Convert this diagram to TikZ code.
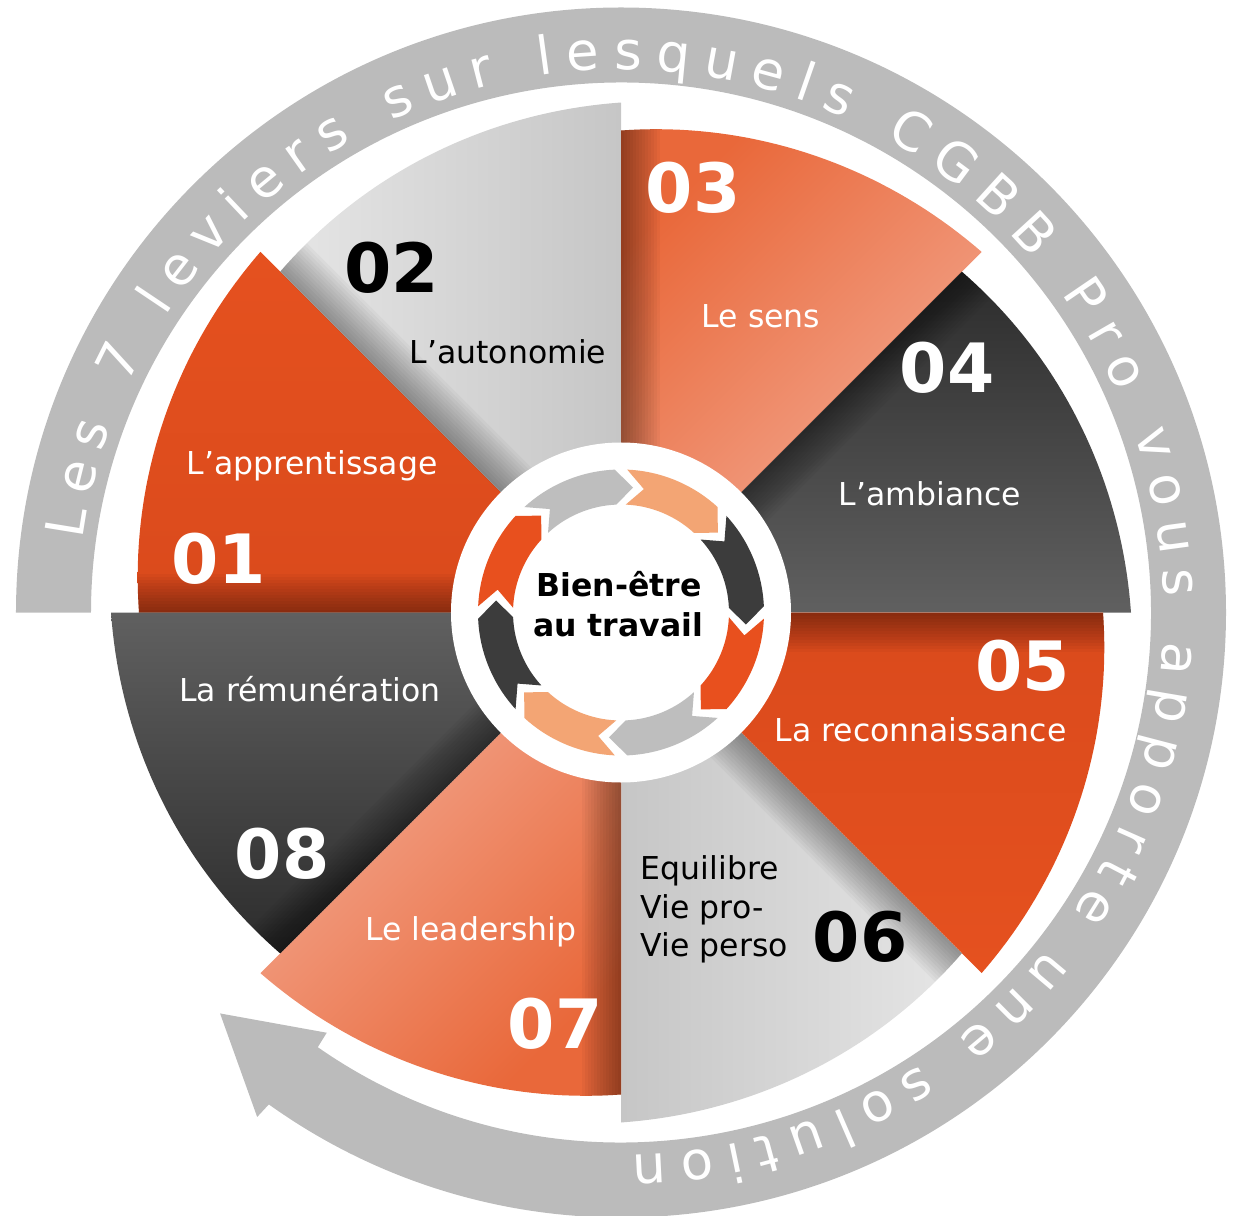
\documentclass[tikz,border=0pt]{standalone}
\usepackage{fontspec}
\setmainfont{DejaVu Sans}
\usetikzlibrary{decorations.text}
\definecolor{bandgray}{HTML}{BBBBBB}
\definecolor{redA}{HTML}{E5511F}
\definecolor{redB}{HTML}{DA4A1C}
\definecolor{lgrayA}{HTML}{E6E6E6}
\definecolor{lgrayB}{HTML}{C6C6C6}
\definecolor{peachA}{HTML}{E9683A}
\definecolor{peachB}{HTML}{F4B09B}
\definecolor{darkA}{HTML}{2C2C2C}
\definecolor{darkB}{HTML}{606060}
\definecolor{arrRed}{HTML}{E8501E}
\definecolor{arrGray}{HTML}{BEBEBE}
\definecolor{arrPeach}{HTML}{F3A574}
\definecolor{arrDark}{HTML}{3C3C3C}
\tikzset{
  wedgeP/.style 2 args={insert path={(0,0) -- (#1:482) -- plot[domain=#1:#2, samples=40, variable=\t] (\t:{482+28*((#1)-(\t))/45}) -- cycle}},
  num/.style={font=\fontsize{68}{68}\selectfont\bfseries, anchor=base, inner sep=0pt},
  lab/.style={font=\fontsize{31.5}{38.5}\selectfont, anchor=base, inner sep=0pt},
  labw/.style={lab, anchor=base west},
  ctr/.style={font=\fontsize{31.5}{40}\selectfont\bfseries, anchor=base, inner sep=0pt}
}
\begin{document}
\begin{tikzpicture}[x=1pt,y=1pt]
\useasboundingbox (-621,-602.5) rectangle (612,612.5);
% outer band with arrow
\fill[bandgray] (180:605) arc[start angle=180, end angle=-125.6, radius=605]
  -- (-125.8:622) -- (-135:567) -- (-125:513) -- (-124.9:530)
  arc[start angle=-124.9, end angle=180, radius=530] -- cycle;
\path[decorate, decoration={text along path, text color=white,
  text={|\fontsize{53}{53}\selectfont|Les 7 leviers sur lesquels CGBB Pro vous apporte une solution},
  text align={fit to path}}]
  (172.3:543) arc[start angle=172.3, end angle=-88.8, radius=543];
% wedges
\shade[top color=redA, bottom color=redB] [wedgeP={180}{135}];
\shade[left color=lgrayA, right color=lgrayB] [wedgeP={135}{90}];
\shade[top color=peachA, bottom color=peachB, shading angle=45] [wedgeP={90}{45}];
\shade[top color=darkA, bottom color=darkB] [wedgeP={45}{0}];
\shade[top color=redB, bottom color=redA] [wedgeP={0}{-45}];
\shade[left color=lgrayB, right color=lgrayA] [wedgeP={-45}{-90}];
\shade[top color=peachB, bottom color=peachA, shading angle=45] [wedgeP={-90}{-135}];
\shade[top color=darkB, bottom color=darkA] [wedgeP={-135}{-180}];
% shadows along start edges
\foreach \a/\b in {180/135,135/90,90/45,45/0,0/-45,-45/-90,-90/-135,-135/-180}{
  \begin{scope}
    \clip[wedgeP={\a}{\b}];
    \foreach \w in {3,6,...,39}
      \fill[black, opacity=0.03, rotate=\a] (0,0) -- (620,0) -- (620,-\w) -- (0,-\w) -- cycle;
  \end{scope}
}
% centre disc and arrows
\fill[white] (0,0) circle[radius=170];
\foreach \t/\c in {180/arrRed,135/arrGray,90/arrPeach,45/arrDark,0/arrRed,-45/arrGray,-90/arrPeach,-135/arrDark}{
  \pgfmathsetmacro{\ta}{\t-2.5}
  \pgfmathsetmacro{\tb}{\t-42.5}
  \pgfmathsetmacro{\tc}{\t-50.5}
  \pgfmathsetmacro{\td}{\t-10.5}
  \fill[\c] (\ta:143) arc[start angle=\ta, end angle=\tb, radius=143] -- (\tc:125.5)
    -- (\tb:108) arc[start angle=\tb, end angle=\ta, radius=108] -- (\td:125.5) -- cycle;
}
\node[ctr] (c1) at (-2,15.8) {Bien-être};
\node[ctr] (c2) at (-3,-24.2) {au travail};
% labels
\node[num, white] (n01) at (-402.5,29.5) {01};
\node[lab, white] (t01) at (-309,137.5) {L’apprentissage};
\node[num, black] (n02) at (-229.5,319.5) {02};
\node[lab, black] (t02) at (-113,248.5) {L’autonomie};
\node[num, white] (n03) at (72,399.5) {03};
\node[lab, white] (t03) at (140,284.5) {Le sens};
\node[num, white] (n04) at (326,219.5) {04};
\node[lab, white] (t04) at (309,106.5) {L’ambiance};
\node[num, white] (n05) at (401.5,-77.5) {05};
\node[lab, white] (t05) at (299.5,-129.2) {La reconnaissance};
\node[labw, black] (t06a) at (19.7,-266.8) {Equilibre};
\node[labw, black] (t06b) at (19.7,-305.8) {Vie pro-};
\node[labw, black] (t06c) at (19.7,-343.5) {Vie perso};
\node[num, black] (n06) at (239,-349.2) {06};
\node[lab, white] (t07) at (-150,-327.5) {Le leadership};
\node[num, white] (n07) at (-66,-435.5) {07};
\node[lab, white] (t08) at (-311,-89.2) {La rémunération};
\node[num, white] (n08) at (-339,-265.8) {08};
\end{tikzpicture}
\end{document}
